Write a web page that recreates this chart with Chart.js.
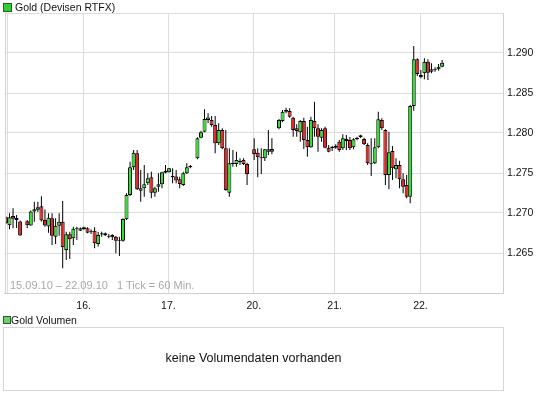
<!DOCTYPE html>
<html><head><meta charset="utf-8">
<script src="https://cdn.jsdelivr.net/npm/chart.js@4/dist/chart.umd.min.js"></script>
<style>
html,body{margin:0;padding:0;background:#fff;}
#wrap{position:relative;width:545px;height:395px;overflow:hidden;font-family:"Liberation Sans",Arial,sans-serif;}
#c{position:absolute;left:0;top:0;}
.t{position:absolute;white-space:nowrap;line-height:1;}
.sq{position:absolute;box-sizing:border-box;border:1px solid #285c28;}
</style></head><body>
<div id="wrap">
<canvas id="c" width="545" height="395"></canvas>
<div class="sq" style="left:3px;top:3px;width:9px;height:9px;background:#2ed02e"></div>
<div class="t" style="left:15px;top:2px;font-size:10.5px;color:#111">Gold (Devisen RTFX)</div>
<div class="t" style="left:10px;top:280px;font-size:11px;color:#a8a8a8">15.09.10 – 22.09.10</div>
<div class="t" style="left:117px;top:280px;font-size:11px;color:#a8a8a8">1 Tick = 60 Min.</div>
<div class="sq" style="left:3px;top:316px;width:8px;height:8px;background:#6fcf6f"></div>
<div class="t" style="left:11px;top:315px;font-size:10.5px;color:#111">Gold Volumen</div>
<div style="position:absolute;left:3px;top:327px;width:501px;height:64px;border:1px solid #d6d6d6;box-sizing:border-box"></div>
<div class="t" style="left:0;width:507px;text-align:center;top:352px;font-size:12.5px;color:#111">keine Volumendaten vorhanden</div>
</div>
<script>
// Hourly candles, 15.09.10 - 22.09.10 (null = no candle)
const open = [1.26946,1.26846,1.26963,1.26938,1.26894,null,1.26896,1.26844,1.27019,1.2704,
 1.27085,1.26913,1.26831,1.26934,1.26704,1.26841,1.26891,1.26538,1.26734,1.26684,
 1.268,1.26779,1.26796,1.26809,1.26779,1.26779,1.26613,1.26746,1.26746,1.26704,
 1.26725,1.26704,1.26654,1.26654,1.26921,1.27225,1.27571,1.27746,1.27279,1.27309,
 1.27371,1.27446,1.27254,1.27329,1.27359,1.27504,1.27509,1.27466,1.27456,1.27421,
 1.2735,1.27496,1.27571,null,1.27684,1.27941,1.28016,1.28163,1.28163,1.281,
 1.27871,1.28038,1.27809,1.27254,1.27613,1.27613,1.27634,1.27663,1.27613,null,
 1.27796,1.27754,1.27696,1.27684,1.27766,1.278,null,1.28059,1.2815,1.28266,
 1.28275,1.28191,1.28059,1.28009,1.2815,1.27913,1.27821,1.2815,1.28059,1.27941,
 1.28059,1.27816,1.27809,1.27816,1.27891,1.27809,1.27925,1.27913,1.27821,1.27925,
 1.27946,1.27925,1.2785,1.27621,1.27621,1.27821,1.28163,1.28038,1.27475,1.27775,
 1.27546,1.276,1.27421,1.2735,1.27204,1.28338,1.28921,1.28725,1.28746,1.28891,
 1.28766,1.28788,1.28796,1.28829];
const high = [1.26956,1.26996,1.27059,1.26975,1.26906,null,1.26913,1.27031,1.27141,1.27141,
 1.2721,1.27044,1.26996,1.26996,1.26934,1.26996,1.2715,1.26766,1.26766,1.26829,
 1.26829,1.26819,1.26828,1.26821,1.26796,1.26821,1.26763,1.26766,1.26756,1.26738,
 1.26734,1.26713,1.26704,1.26934,1.27246,1.27641,1.27788,1.27788,1.27538,1.276,
 1.27496,1.27516,1.27329,1.27496,1.27516,1.276,1.27563,1.27559,1.27538,1.27454,
 1.27516,1.27621,1.276,null,1.27946,1.28029,1.28296,1.28246,1.28213,1.28213,
 1.28121,1.28059,1.28038,1.27809,1.27788,1.27766,1.27684,1.27684,1.27629,null,
 1.27934,1.27809,1.27809,1.278,1.28038,1.27934,null,1.28175,1.28288,1.28316,
 1.28309,1.28204,1.28109,1.28163,1.28191,1.28079,1.28204,1.28391,1.28109,1.28059,
 1.28079,1.2785,1.27841,1.27859,1.27913,1.27984,1.27975,1.2795,1.27934,1.27954,
 1.27979,1.27941,1.27871,1.27934,1.27934,1.28266,1.28184,1.28046,1.28016,1.27838,
 1.27684,1.27654,1.27496,1.27475,1.2835,1.29088,1.28934,1.28788,1.28934,1.28921,
 1.28871,1.28821,1.28863,1.28913];
const low = [1.26863,1.26796,1.26809,1.26813,1.26716,null,1.26813,1.26841,1.26891,1.27013,
 1.26894,1.26829,1.26754,1.266,1.26613,1.26716,1.26309,1.26413,1.26425,1.266,
 1.26663,1.26775,1.2679,1.26746,1.26738,1.26559,1.26581,1.26704,1.26713,1.26684,
 1.26663,1.26496,1.26463,1.26641,1.26913,1.27213,1.27538,1.27288,1.27141,1.27204,
 1.2735,1.27184,1.27204,1.27266,1.27309,1.27496,1.27506,1.27371,1.27371,1.27309,
 1.27338,1.27488,1.27559,null,1.27671,1.27934,1.28009,1.28125,1.28079,1.27746,
 1.2785,1.27796,1.27279,1.27204,1.27579,1.27579,1.276,1.276,1.2735,null,
 1.27663,1.27446,1.27488,1.2765,1.27725,1.27734,null,1.28046,1.28134,1.28246,
 1.28191,1.27954,1.27954,1.27891,1.278,1.27704,1.27816,1.27954,1.27766,1.27891,
 1.27809,1.27759,1.27775,1.27804,1.27766,1.27788,1.27788,1.27788,1.27796,1.27909,
 1.27938,1.2785,1.276,1.27463,1.27613,1.27809,1.28038,1.2735,1.27296,1.27413,
 1.27434,1.27309,1.27246,1.27184,1.27121,1.28279,1.28713,1.28684,1.28671,1.28663,
 1.28746,1.28766,1.28779,1.28821];
const close = [1.26871,1.26946,1.26929,1.26913,1.26719,null,1.26846,1.27019,1.27046,1.27071,
 1.26906,1.26844,1.26941,1.26716,1.26841,1.26891,1.26571,1.26734,1.26671,1.26804,
 1.26809,1.26809,1.26821,1.26754,1.26766,1.26621,1.26725,1.26731,1.26721,1.26716,
 1.26696,1.26654,1.26663,1.26925,1.27225,1.27571,1.27754,1.27296,1.27309,1.27359,
 1.27434,1.27254,1.27309,1.27359,1.27509,1.27525,1.27559,1.27446,1.27406,1.27363,
 1.27496,1.27571,1.27588,null,1.27934,1.28009,1.28175,1.28194,1.281,1.27871,
 1.28038,1.27809,1.27288,1.27621,1.27629,1.27663,1.2765,1.27613,1.27488,null,
 1.27738,1.27696,1.27684,1.27796,1.27796,1.27766,null,1.28163,1.28266,1.28288,
 1.28204,1.28038,1.28025,1.2815,1.27913,1.27821,1.28163,1.28059,1.27954,1.28038,
 1.27816,1.27766,1.27829,1.27841,1.27788,1.27934,1.279,1.27809,1.27921,1.27941,
 1.27971,1.27859,1.27621,1.27613,1.27821,1.28171,1.28059,1.27475,1.27759,1.27559,
 1.276,1.27421,1.27329,1.27204,1.28338,1.28921,1.28738,1.28696,1.28891,1.28754,
 1.28796,1.28796,1.28829,1.28879];
// day boundaries (candle index where the day starts) and their labels
const dayStart = [0.3, 21.9, 45.8, 69.9, 92.7, 116.9];
const dayLabels = ['', '16.', '17.', '20.', '21.', '22.'];
// price axis
const yTicks = [1.260, 1.265, 1.270, 1.275, 1.280, 1.285, 1.290, 1.295];
const yLabels = ['', '1.265', '1.270', '1.275', '1.280', '1.285', '1.290', ''];

const GREEN = '#2fe42f', RED = '#ec2222';
const wicks = [], bodies = [], bodyColors = [];
for (let i = 0; i < open.length; i++) {
  if (open[i] == null) continue;
  wicks.push({x: i, y: [low[i], high[i]]});
  bodies.push({x: i, y: [Math.min(open[i], close[i]), Math.max(open[i], close[i])]});
  bodyColors.push(close[i] >= open[i] ? GREEN : RED);
}

const frame = {
  id: 'frame',
  afterDraw(chart) {
    const a = chart.chartArea, ctx = chart.ctx;
    ctx.save();
    ctx.strokeStyle = '#cfcfcf';
    ctx.lineWidth = 1;
    ctx.beginPath();
    ctx.moveTo(Math.round(a.left) + 0.5, a.top);
    ctx.lineTo(Math.round(a.left) + 0.5, a.bottom);
    ctx.stroke();
    ctx.restore();
  }
};

const font = {family: '"Liberation Sans", Arial, sans-serif', size: 10.5};
new Chart(document.getElementById('c'), {
  type: 'bar',
  data: {
    datasets: [
      {data: bodies, backgroundColor: bodyColors, borderColor: '#000', borderWidth: 1,
       borderSkipped: false, barThickness: 4, grouped: false, inflateAmount: 0, order: 0},
      {data: wicks, backgroundColor: '#000', borderWidth: 0, barThickness: 1,
       grouped: false, inflateAmount: 0, order: 1}
    ]
  },
  options: {
    responsive: false,
    animation: false,
    devicePixelRatio: 1,
    layout: {padding: {left: 3, top: 13, right: 0, bottom: 0}},
    plugins: {legend: {display: false}, tooltip: {enabled: false}},
    scales: {
      x: {
        type: 'linear', min: -0.28, max: 140.17, offset: false,
        grid: {color: '#dcdcdc', drawTicks: false, offset: false},
        border: {display: true, color: '#cfcfcf'},
        ticks: {padding: 7, color: '#111', font: font, autoSkip: false, maxRotation: 0,
                callback: (v, i) => dayLabels[i]},
        afterBuildTicks: s => { s.ticks = dayStart.map(v => ({value: v})); },
        afterFit: s => { s.height = 102; }
      },
      y: {
        position: 'right', min: 1.26, max: 1.295,
        grid: {color: '#dcdcdc', drawTicks: false},
        border: {display: true, color: '#cfcfcf'},
        ticks: {padding: 4, color: '#111', font: font,
                callback: (v, i) => yLabels[i]},
        afterBuildTicks: s => { s.ticks = yTicks.map(v => ({value: v})); },
        afterFit: s => { s.width = 42; }
      }
    }
  },
  plugins: [frame]
});
</script>
</body></html>
